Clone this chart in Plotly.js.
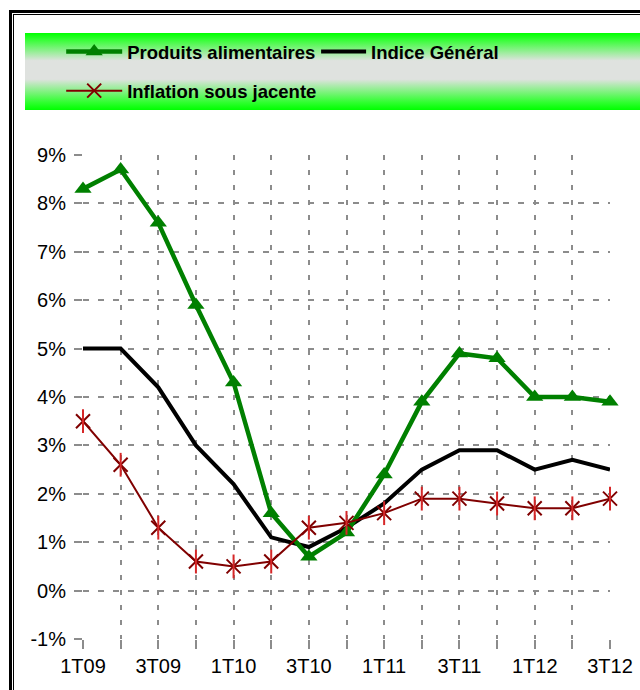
<!DOCTYPE html>
<html><head><meta charset="utf-8">
<script src="https://cdn.plot.ly/plotly-3.0.1.min.js"></script>
<style>
html,body{margin:0;padding:0;background:#fff;width:640px;height:690px;overflow:hidden;}
#frame1{position:absolute;left:9px;top:10px;width:700px;height:700px;border-left:3px solid #000;border-top:3px solid #000;}
#frame2{position:absolute;left:13px;top:14px;width:700px;height:700px;border-left:1px solid #000;border-top:1px solid #000;}
#band{position:absolute;left:25px;top:33px;width:640px;height:77px;
 background:linear-gradient(to bottom,#00ff00 0%,#30ff30 8%,#dfe2df 36%,#dfe2df 60%,#30ff30 90%,#00ff00 100%);}
#chart{position:absolute;left:0;top:0;width:640px;height:690px;}
</style></head><body>
<div id="frame1"></div><div id="frame2"></div><div id="band"></div><div id="chart"></div>
<script>
const quarters = ['1T09','2T09','3T09','4T09','1T10','2T10','3T10','4T10','1T11','2T11','3T11','4T11','1T12','2T12','3T12'];
const quarterLabels = ['1T09','','3T09','','1T10','','3T10','','1T11','','3T11','','1T12','','3T12'];
const produitsAlimentaires = [8.3,8.7,7.6,5.9,4.3,1.6,0.7,1.2,2.4,3.9,4.9,4.8,4.0,4.0,3.9];
const indiceGeneral = [5.0,5.0,4.2,3.0,2.2,1.1,0.9,1.3,1.8,2.5,2.9,2.9,2.5,2.7,2.5];
const inflationSousJacente = [3.5,2.6,1.3,0.6,0.5,0.6,1.3,1.4,1.6,1.9,1.9,1.8,1.7,1.7,1.9];
const yTicks = [-1,0,1,2,3,4,5,6,7,8,9];
const yTickLabels = ['-1%','0%','1%','2%','3%','4%','5%','6%','7%','8%','9%'];

const GREEN = '#008000', RED = '#800000';
const traces = [
  {x: quarters, y: indiceGeneral, name: 'Indice Général', mode: 'lines', cliponaxis: false,
   line: {color: '#000000', width: 4}, legend: 'legend3'},
  {x: quarters, y: produitsAlimentaires, name: 'Produits alimentaires', mode: 'lines+markers', cliponaxis: false,
   line: {color: GREEN, width: 4.5}, marker: {symbol: 'triangle-up', size: 15, color: GREEN},
   legend: 'legend'},
  {x: quarters, y: inflationSousJacente, name: 'Inflation sous jacente', mode: 'lines+markers', cliponaxis: false,
   line: {color: RED, width: 2}, marker: {symbol: 'x-thin-open', size: 14, line: {color: RED, width: 2}},
   legend: 'legend2'},
  {x: quarters, y: inflationSousJacente, name: 'Inflation sous jacente', mode: 'markers', cliponaxis: false,
   marker: {symbol: 'line-ns-open', size: 17, line: {color: RED, width: 2}}, showlegend: false, hoverinfo: 'skip'}
];

const gridCol = '#8c8c8c';
const tickFont = {family: 'Liberation Sans, Arial, sans-serif', size: 20, color: '#000'};
const legFont = {family: 'Liberation Sans, Arial, sans-serif', size: 18.5, color: '#000', weight: 'bold'};
const legBase = {orientation: 'h', xanchor: 'left', yanchor: 'middle', bgcolor: 'rgba(0,0,0,0)', font: legFont, itemwidth: 56};
const layout = {
  width: 640, height: 690,
  margin: {l: 83, r: 30, t: 155, b: 51, autoexpand: false},
  paper_bgcolor: 'rgba(0,0,0,0)', plot_bgcolor: 'rgba(0,0,0,0)',
  showlegend: true,
  xaxis: {type: 'category', range: [0, 14], tickvals: quarters, ticktext: quarterLabels,
    showgrid: true, gridcolor: gridCol, gridwidth: 2, griddash: '5px,10px',
    ticks: 'outside', ticklen: 9, tickwidth: 2, tickcolor: gridCol,
    showline: false, zeroline: false, tickfont: tickFont, fixedrange: true},
  yaxis: {range: [-1, 9], tickvals: yTicks, ticktext: yTickLabels,
    showgrid: true, gridcolor: gridCol, gridwidth: 2, griddash: '6px,9px',
    ticks: 'outside', ticklen: 8, tickwidth: 2, tickcolor: gridCol, ticklabelstandoff: 4,
    showline: false, zeroline: false, tickfont: tickFont, fixedrange: true},
  legend: Object.assign({}, legBase, {x: -0.0414, y: 1.2128}),
  legend3: Object.assign({}, legBase, {x: 0.4423, y: 1.2128, itemwidth: 45}),
  legend2: Object.assign({}, legBase, {x: -0.0414, y: 1.132})
};
Plotly.newPlot('chart', traces, layout, {staticPlot: true, displayModeBar: false});
</script></body></html>
